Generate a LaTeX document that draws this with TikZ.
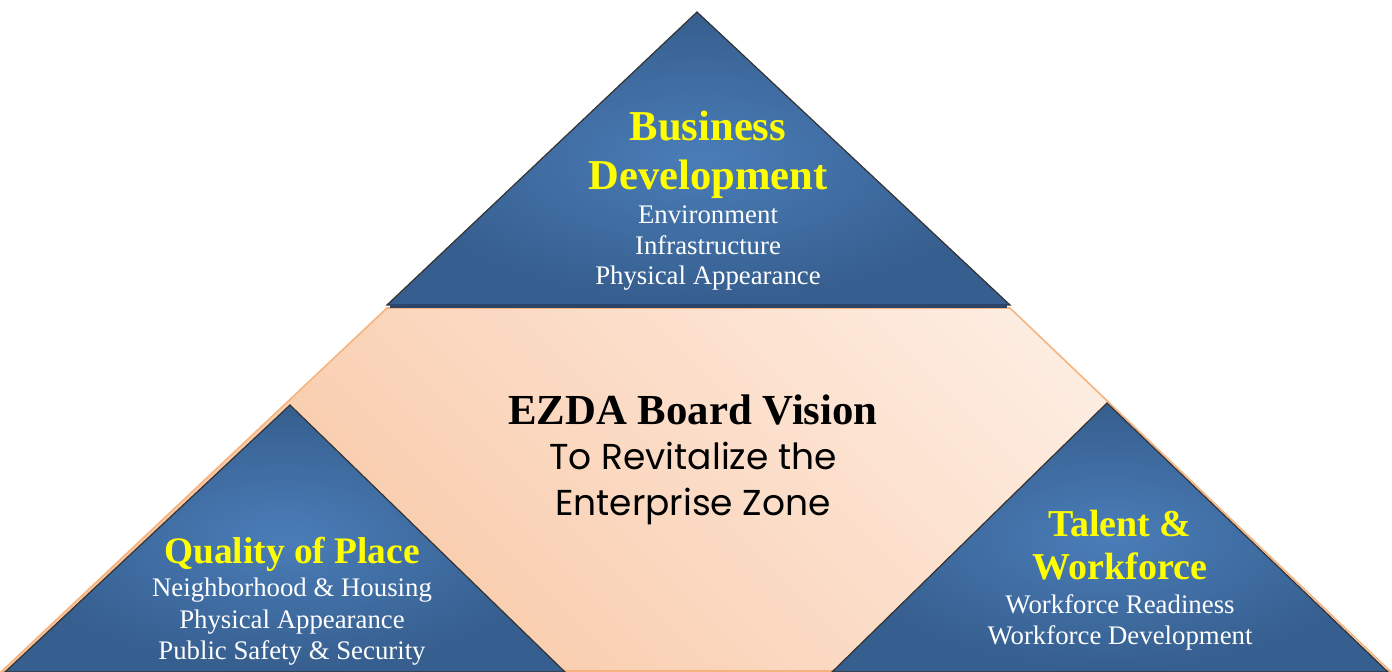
\documentclass[tikz,border=0pt]{standalone}
\usepackage{fontspec}
\setmainfont{Liberation Serif}
\newfontfamily\gothicfont{Poppins}
\usetikzlibrary{positioning}
\definecolor{bluedark}{HTML}{365E8E}
\definecolor{bluelight}{HTML}{4A7DB8}
\definecolor{bluebase}{HTML}{2B4468}
\definecolor{peachdark}{HTML}{F8C4A0}
\definecolor{peachlight}{HTML}{FEF1E8}
\definecolor{peachline}{HTML}{F5B47F}
\definecolor{titleyellow}{HTML}{FFFF00}

\begin{document}
\begin{tikzpicture}[x=0.5pt, y=-0.5pt, align=center]
    \tikzstyle{every node}=[inner sep=0pt];
    \tikzstyle{title}=[text=titleyellow];
    \tikzstyle{item}=[text=white, font=\fontsize{13.4}{15.4}\selectfont];
    \tikzstyle{pyramid}=[inner color=bluelight, outer color=bluedark, draw=black!80, line width=0.6pt];

    \useasboundingbox (0,0) rectangle (1392,671);

    % peach band
    \shadedraw[top color=peachlight, bottom color=peachdark, shading angle=-45,
        draw=peachline, line width=0.8pt]
        (387,308) -- (1010,308) -- (1390,671) -- (2,671) -- cycle;

    % blue triangles
    \shadedraw[pyramid] (697,12) -- (1010,305) -- (387,305) -- cycle;
    \draw[bluebase, line width=2pt] (390,306) -- (1007,306);
    \shadedraw[pyramid] (290,405) -- (565,672) -- (5,672) -- cycle;
    \shadedraw[pyramid] (1107,403) -- (1388,672) -- (832,672) -- cycle;

    \node (bdtitle) [title, font=\bfseries\fontsize{21.3}{24.5}\selectfont] at (708,155) {Business\\Development};
    \node (bditems) [item, below=3pt of bdtitle] {Environment\\Infrastructure\\Physical Appearance};

    \node (qptitle) [title, font=\bfseries\fontsize{18.7}{21.5}\selectfont] at (292,554) {Quality of Place};
    \node (qpitems) [item, font=\fontsize{13.4}{15.8}\selectfont, below=3pt of qptitle] {Neighborhood \& Housing\\Physical Appearance\\Public Safety \& Security};

    \node (twtitle) [title, font=\bfseries\fontsize{19}{21.5}\selectfont] at (1120,545) {Talent \&\\Workforce};
    \node (twitems) [item, below=7pt of twtitle] {Workforce Readiness\\Workforce Development};

    \node (vision) [font=\fontsize{21.4}{24}\selectfont\bfseries] at (693,410) {EZDA Board Vision};
    \node (mission) [font=\gothicfont\fontsize{18}{23}\selectfont, below=8pt of vision] {To Revitalize the\\Enterprise Zone};
\end{tikzpicture}
\end{document}
